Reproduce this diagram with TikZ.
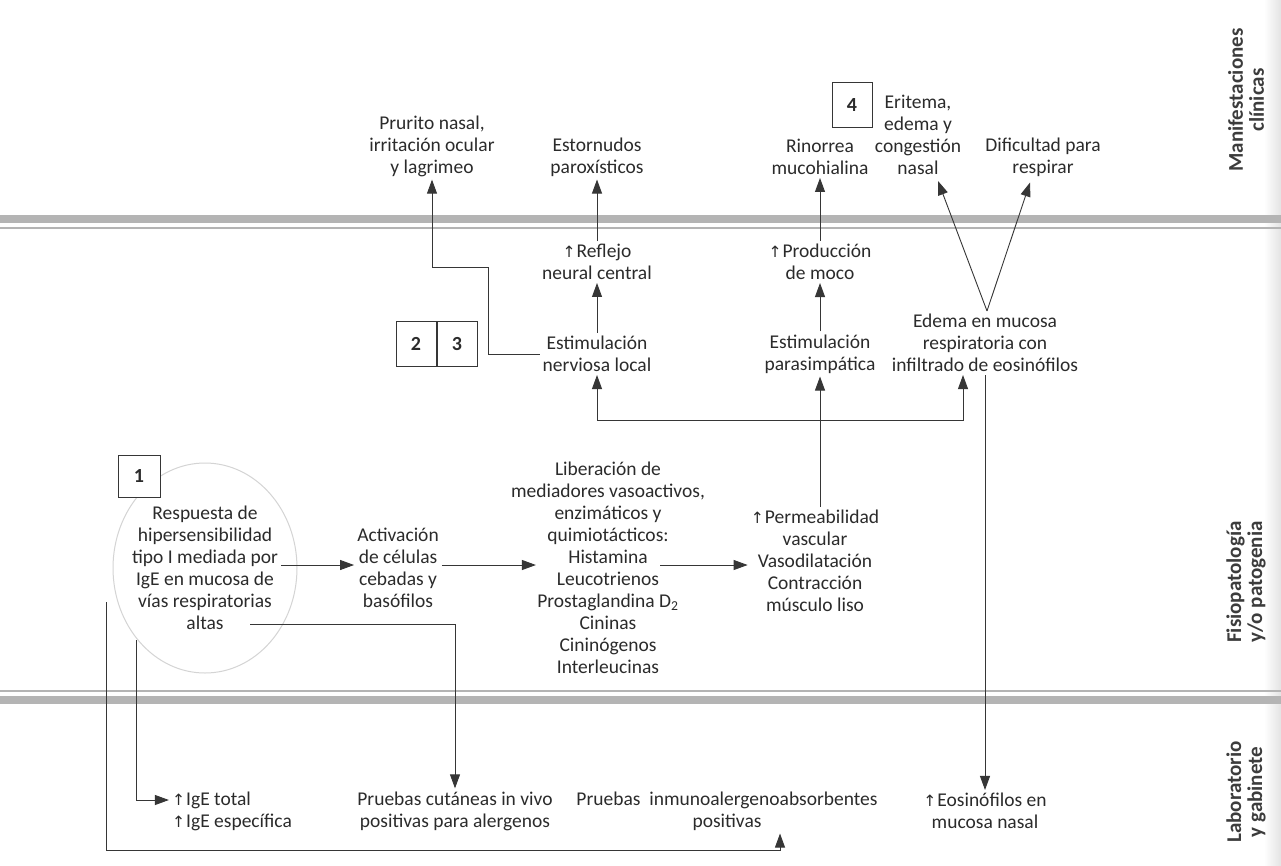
\documentclass[tikz,border=0pt]{standalone}
\usepackage{fontspec}
\setmainfont{Carlito}
\newfontfamily\symfont{DejaVu Sans}[Scale=0.8]
\usetikzlibrary{arrows.meta,calc}
\newcommand\upar{{\symfont ↑}\kern1pt}
\definecolor{ink}{HTML}{2B2B2B}
\definecolor{rule}{HTML}{363636}
\definecolor{band}{HTML}{B4B4B4}
\definecolor{ring}{HTML}{D4D4D4}
\definecolor{side}{HTML}{3C3C3C}
\begin{document}
\begin{tikzpicture}[x=1pt,y=-1pt,
  txt/.style={align=center,text=ink,inner sep=3pt,font=\fontsize{19.5}{22}\selectfont},
  numbox/.style={draw=rule,line width=1pt,fill=white,minimum width=40pt,minimum height=45pt,
    inner sep=0pt,font=\fontsize{20}{20}\selectfont\bfseries,text=ink},
  arr/.style={draw=rule,line width=0.9pt,-{Triangle[length=14pt,width=10pt]}},
  conn/.style={draw=rule,line width=0.9pt},
  sidelbl/.style={rotate=90,align=center,text=side,font=\fontsize{21}{21}\selectfont\bfseries},
]
\path[use as bounding box,fill=white] (0,0) rectangle (1281,865);
\shade[left color=white,right color=gray!22] (1264,0) rectangle (1281,865);

% section separators
\fill[band] (0,215) rectangle (1281,223);
\draw[band,line width=1.5pt] (0,228) -- (1281,228);
\draw[band,line width=1.5pt] (0,691) -- (1281,691);
\fill[band] (0,696) rectangle (1281,704);

% side labels
\node[sidelbl] (s1) at (1246,100) {Manifestaciones\\clínicas};
\node[sidelbl] (s2) at (1246,582) {Fisiopatología\\y/o patogenia};
\node[sidelbl] (s3) at (1246,792) {Laboratorio\\y gabinete};

% clinical manifestations
\node[txt] (prur) at (432,146) {Prurito nasal,\\irritación ocular\\y lagrimeo};
\node[txt] (esto) at (597,157) {Estornudos\\paroxísticos};
\node[txt] (rino) at (820,157) {Rinorrea\\mucohialina};
\node[numbox] (b4) at (852,105) {4};
\node[txt] (erit) at (918,135) {Eritema,\\edema y\\congestión\\nasal};
\node[txt] (dif) at (1043,157) {Dificultad para\\respirar};

% pathophysiology
\node[txt] (refl) at (597,262) {\upar Reflejo\\neural central};
\node[txt] (prod) at (820,262) {\upar Producción\\de moco};
\node[txt] (nerv) at (597,354) {Estimulación\\nerviosa local};
\node[txt] (para) at (820,354) {Estimulación\\parasimpática};
\node[txt] (edema) at (985,343) {Edema en mucosa\\respiratoria con\\infiltrado de eosinófilos};
\node[numbox] (b2) at (416,344) {2};
\node[numbox,anchor=west] (b3) at (b2.east) {3};

\draw[ring,line width=1pt] (205,568) ellipse [x radius=92pt, y radius=105pt];
\node[numbox,minimum width=42pt,minimum height=42pt] (b1) at (139,476) {1};
\node[txt] (resp) at (205,568) {Respuesta de\\hipersensibilidad\\tipo I mediada por\\IgE en mucosa de\\vías respiratorias\\altas};
\node[txt] (actv) at (398,568) {Activación\\de células\\cebadas y\\basófilos};
\node[txt] (lib) at (608,568) {Liberación de\\mediadores vasoactivos,\\enzimáticos y\\quimiotácticos:\\Histamina\\Leucotrienos\\Prostaglandina D\textsubscript{2}\\Cininas\\Cininógenos\\Interleucinas};
\node[txt] (perm) at (815,561) {\upar Permeabilidad\\vascular\\Vasodilatación\\Contracción\\músculo liso};

% laboratory
\node[txt,align=left] (ige) at (232,811) {\upar IgE total\\\upar IgE específica};
\node[txt] (cut) at (455,811) {Pruebas cutáneas in vivo\\positivas para alergenos};
\node[txt] (inmu) at (727,811) {Pruebas\ \ inmunoalergenoabsorbentes\\positivas};
\node[txt] (eos) at (985,811) {\upar Eosinófilos en\\mucosa nasal};

% connectors: upper part
\draw[arr] (nerv) -- (refl);
\draw[arr] (refl) -- (esto);
\draw[arr] (para) -- (prod);
\draw[arr] (prod) -- (rino);
\coordinate (j1) at (488,267);
\draw[arr] (nerv.west) -| (j1) -| (prur.south);

\coordinate (hub) at (820,420);
\coordinate (ea) at (963,420);
\draw[conn] (perm.north -| hub) -- (hub);
\draw[arr] (hub) -- (para);
\draw[arr] (hub) -| (nerv);
\draw[arr] (hub) -- (ea) -- (ea |- edema.south);
\draw[arr] (edema) -- (eos);

\coordinate (vap) at ([xshift=2pt]edema.north);
\coordinate (vl) at ($(erit.south)+(20,3)$);
\coordinate (vr) at ($(dif.south)+(-13,3)$);
\draw[arr] (vap) -- (vl);
\draw[arr] (vap) -- (vr);

% connectors: main chain
\coordinate (lvl) at (0,565);
\coordinate (libin) at ([xshift=28pt]lib.west);
\coordinate (libout) at ([xshift=-48pt]lib.east);
\draw[arr] (resp.east |- lvl) -- (actv.west |- lvl);
\draw[arr] (actv.east |- lvl) -- (libin |- lvl);
\draw[arr] (libout |- lvl) -- (perm.west |- lvl);

% connectors to laboratory
\coordinate (a1) at (250,624);
\draw[arr] (a1) -| (cut);
\coordinate (a2) at (136,640);
\coordinate (igein) at ([yshift=11pt]ige.west);
\draw[arr] (a2) |- (igein);
\coordinate (a3) at (106,602);
\coordinate (a5) at (780,850);
\draw[arr] (a3) |- (a5) -- (a5 |- inmu.south);
\end{tikzpicture}
\end{document}
